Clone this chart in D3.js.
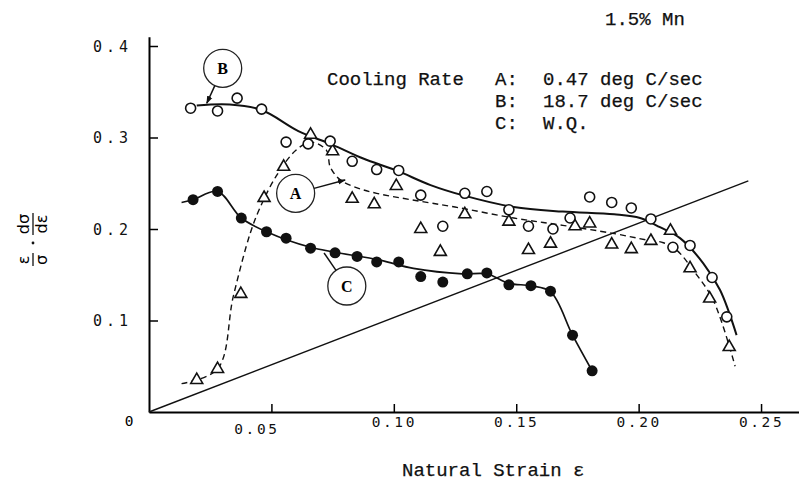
<!DOCTYPE html>
<html>
<head>
<meta charset="utf-8">
<script src="https://cdn.jsdelivr.net/npm/d3@7"></script>
<style>
  body { margin: 0; background: #fff; }
  svg { display: block; }
  .tick text { font-family: "DejaVu Sans Mono", monospace; font-size: 14.5px; letter-spacing: 2.6px; fill: #111; }
  .mono { font-family: "Liberation Mono", "Courier New", monospace; font-size: 19px; fill: #111; stroke: #111; stroke-width: 0.25px; }
</style>
</head>
<body>
<svg id="chart" width="799" height="485"></svg>
<script>
// ticks
const strainTicks = [0.05, 0.10, 0.15, 0.20, 0.25];
const valueTicks = [0.1, 0.2, 0.3, 0.4];

// measured points [natural strain, eps/sigma * dsigma/deps]
const pointsA = [ // 0.47 deg C/sec, triangles
  [0.0195, 0.035], [0.028, 0.047], [0.0375, 0.129], [0.047, 0.234], [0.055, 0.268],
  [0.066, 0.303], [0.075, 0.285], [0.083, 0.233], [0.092, 0.227], [0.101, 0.247],
  [0.111, 0.200], [0.119, 0.175], [0.129, 0.216], [0.147, 0.208], [0.155, 0.177],
  [0.164, 0.184], [0.174, 0.203], [0.180, 0.206], [0.189, 0.183], [0.197, 0.178],
  [0.205, 0.187], [0.213, 0.198], [0.221, 0.157], [0.229, 0.124], [0.237, 0.071]
];
const pointsB = [ // 18.7 deg C/sec, open circles
  [0.017, 0.332], [0.028, 0.329], [0.036, 0.343], [0.046, 0.331], [0.056, 0.295],
  [0.065, 0.293], [0.074, 0.296], [0.083, 0.274], [0.093, 0.265], [0.102, 0.264],
  [0.111, 0.237], [0.120, 0.203], [0.129, 0.239], [0.138, 0.241], [0.147, 0.221],
  [0.155, 0.203], [0.165, 0.200], [0.172, 0.212], [0.180, 0.235], [0.189, 0.229],
  [0.197, 0.223], [0.205, 0.211], [0.214, 0.180], [0.221, 0.182], [0.230, 0.147],
  [0.236, 0.104]
];
const pointsC = [ // W.Q., filled circles
  [0.018, 0.232], [0.028, 0.241], [0.0377, 0.212], [0.048, 0.197], [0.056, 0.190],
  [0.066, 0.179], [0.076, 0.174], [0.085, 0.170], [0.093, 0.164], [0.102, 0.164],
  [0.111, 0.148], [0.120, 0.142], [0.130, 0.151], [0.138, 0.152], [0.147, 0.139],
  [0.156, 0.138], [0.164, 0.132], [0.173, 0.084], [0.181, 0.045]
];

// hand drawn fit curves
const curveA = [
  [0.0133, 0.031], [0.028, 0.047], [0.0344, 0.126], [0.0413, 0.195], [0.0453, 0.223],
  [0.052, 0.258], [0.060, 0.286], [0.066, 0.295], [0.0725, 0.286], [0.074, 0.268],
  [0.078, 0.254], [0.085, 0.245], [0.093, 0.239], [0.107, 0.232], [0.125, 0.224],
  [0.149, 0.212], [0.169, 0.204], [0.190, 0.195], [0.2033, 0.188], [0.2101, 0.185],
  [0.2155, 0.177], [0.2223, 0.155], [0.2305, 0.122], [0.2394, 0.050]
];
const curveB = [
  [0.0195, 0.335], [0.033, 0.336], [0.046, 0.330], [0.061, 0.307], [0.075, 0.292],
  [0.0875, 0.277], [0.101, 0.264], [0.115, 0.248], [0.128, 0.237], [0.149, 0.224],
  [0.169, 0.219], [0.190, 0.216], [0.2006, 0.212], [0.2087, 0.202], [0.2169, 0.190],
  [0.2264, 0.1625], [0.2333, 0.133], [0.240, 0.084]
];
const curveC = [
  [0.0133, 0.229], [0.018, 0.232], [0.028, 0.241], [0.0377, 0.212], [0.048, 0.197],
  [0.066, 0.180], [0.0944, 0.166], [0.108, 0.157], [0.128, 0.151], [0.138, 0.151],
  [0.147, 0.1406], [0.156, 0.138], [0.164, 0.1315], [0.173, 0.084], [0.181, 0.045]
];
// straight reference line
const diagonal = [[0, 0], [0.2448, 0.2525]];

const legendRows = [
  ["A:", "0.47 deg C/sec"],
  ["B:", "18.7 deg C/sec"],
  ["C:", "W.Q."]
];

const svg = d3.select("#chart");

const x = d3.scaleLinear().domain([0, 0.2655]).range([149, 799]);
const y = d3.scaleLinear().domain([0, 0.41]).range([412, 36.85]);

// axes, ticks pointing inwards
const xAxis = svg.append("g")
  .attr("transform", `translate(0,${y(0)})`)
  .call(d3.axisBottom(x).tickValues(strainTicks).tickSize(-8).tickSizeOuter(0)
    .tickPadding(5).tickFormat(d3.format(".2f")));
xAxis.select(".domain").attr("stroke-width", 2);
xAxis.selectAll(".tick line").attr("stroke-width", 1.5);
xAxis.selectAll(".tick text").filter(d => d === 0.05).attr("dx", -15).attr("dy", "1.2em");

const yAxis = svg.append("g")
  .attr("transform", `translate(${x(0)},0)`)
  .call(d3.axisLeft(y).tickValues(valueTicks).tickSize(-9).tickSizeOuter(0)
    .tickPadding(17).tickFormat(d3.format(".1f")));
yAxis.select(".domain").attr("stroke-width", 2);
yAxis.selectAll(".tick line").attr("stroke-width", 1.5);
yAxis.selectAll(".tick text").style("letter-spacing", "4px").style("font-size", "15px").attr("dy", "0.36em");

svg.append("text")
  .attr("x", 129).attr("y", 426)
  .attr("text-anchor", "middle")
  .style("font-family", "DejaVu Sans Mono").style("font-size", "14.5px")
  .text("0");

// lines
const line = d3.line().x(d => x(d[0])).y(d => y(d[1]));
const smooth = d3.line().x(d => x(d[0])).y(d => y(d[1])).curve(d3.curveCatmullRom.alpha(0.5));

svg.append("path").attr("d", line(diagonal))
  .attr("fill", "none").attr("stroke", "#111").attr("stroke-width", 1.4);
svg.append("path").attr("d", smooth(curveA))
  .attr("fill", "none").attr("stroke", "#111").attr("stroke-width", 1.4)
  .attr("stroke-dasharray", "6,4");
svg.append("path").attr("d", smooth(curveB))
  .attr("fill", "none").attr("stroke", "#111").attr("stroke-width", 2);
svg.append("path").attr("d", smooth(curveC))
  .attr("fill", "none").attr("stroke", "#111").attr("stroke-width", 1.7);

// markers
const tri = d3.symbol(d3.symbolTriangle).size(62);
svg.append("g").selectAll("path")
  .data(pointsA)
  .enter().append("path")
  .attr("d", tri)
  .attr("transform", d => `translate(${x(d[0])},${y(d[1])})`)
  .attr("fill", "#fff").attr("stroke", "#111").attr("stroke-width", 1.6);

svg.append("g").selectAll("circle")
  .data(pointsB)
  .enter().append("circle")
  .attr("cx", d => x(d[0])).attr("cy", d => y(d[1])).attr("r", 5)
  .attr("fill", "#fff").attr("stroke", "#111").attr("stroke-width", 1.6);

svg.append("g").selectAll("circle")
  .data(pointsC)
  .enter().append("circle")
  .attr("cx", d => x(d[0])).attr("cy", d => y(d[1])).attr("r", 5.5)
  .attr("fill", "#111");

// callout circles with pointers
svg.append("defs").append("marker")
  .attr("id", "head").attr("viewBox", "0 0 10 10")
  .attr("refX", 9).attr("refY", 5)
  .attr("markerWidth", 8).attr("markerHeight", 8)
  .attr("markerUnits", "userSpaceOnUse")
  .attr("orient", "auto")
  .append("path").attr("d", "M0,1.5L10,5L0,8.5Z").attr("fill", "#111");

const callouts = [
  { label: "B", at: [0.0301, 0.3756], tip: [0.0236, 0.3374], head: true },
  { label: "A", at: [0.0599, 0.239], tip: [0.0801, 0.2536], head: true },
  { label: "C", at: [0.0808, 0.1377], tip: [0.0715, 0.1738], head: false }
];
const r = 19;
callouts.forEach(c => {
  const cx = x(c.at[0]), cy = y(c.at[1]);
  const tx = x(c.tip[0]), ty = y(c.tip[1]);
  const len = Math.hypot(tx - cx, ty - cy);
  const sx = cx + (tx - cx) / len * r, sy = cy + (ty - cy) / len * r;
  svg.append("circle").attr("cx", cx).attr("cy", cy).attr("r", r)
    .attr("fill", "#fff").attr("stroke", "#222").attr("stroke-width", 1.3);
  svg.append("text").attr("x", cx).attr("y", cy + 5.5)
    .attr("text-anchor", "middle")
    .style("font-family", "Liberation Serif").style("font-size", "16px")
    .style("font-weight", "bold")
    .text(c.label);
  svg.append("line").attr("x1", sx).attr("y1", sy).attr("x2", tx).attr("y2", ty)
    .attr("stroke", "#111").attr("stroke-width", 1.5)
    .attr("marker-end", c.head ? "url(#head)" : null);
});

// texts
svg.append("text").attr("class", "mono").attr("x", 605).attr("y", 25).text("1.5% Mn");
svg.append("text").attr("class", "mono").attr("x", 327).attr("y", 85).text("Cooling Rate");
legendRows.forEach((row, i) => {
  svg.append("text").attr("class", "mono").attr("x", 495).attr("y", 85 + i * 22).text(row[0]);
  svg.append("text").attr("class", "mono").attr("x", 543).attr("y", 85 + i * 22).text(row[1]);
});
svg.append("text").attr("class", "mono").attr("x", 402).attr("y", 476).text("Natural Strain ε");

// y label: eps/sigma . dsigma/deps, rotated
const yl = svg.append("g").attr("transform", "translate(33,240) rotate(-90)")
  .style("font-family", "DejaVu Sans").style("font-size", "16px");
yl.append("text").attr("x", -20).attr("y", -4).attr("text-anchor", "middle").text("ε");
yl.append("text").attr("x", -20).attr("y", 14).attr("text-anchor", "middle").text("σ");
yl.append("line").attr("x1", -26).attr("x2", -13).attr("y1", 0).attr("y2", 0)
  .attr("stroke", "#111").attr("stroke-width", 1.3);
yl.append("circle").attr("cx", -3).attr("cy", 0).attr("r", 1.4).attr("fill", "#111");
yl.append("text").attr("x", 16).attr("y", -4).attr("text-anchor", "middle").text("dσ");
yl.append("text").attr("x", 16).attr("y", 14).attr("text-anchor", "middle").text("dε");
yl.append("line").attr("x1", 5).attr("x2", 27).attr("y1", 0).attr("y2", 0)
  .attr("stroke", "#111").attr("stroke-width", 1.3);
</script>
</body>
</html>
